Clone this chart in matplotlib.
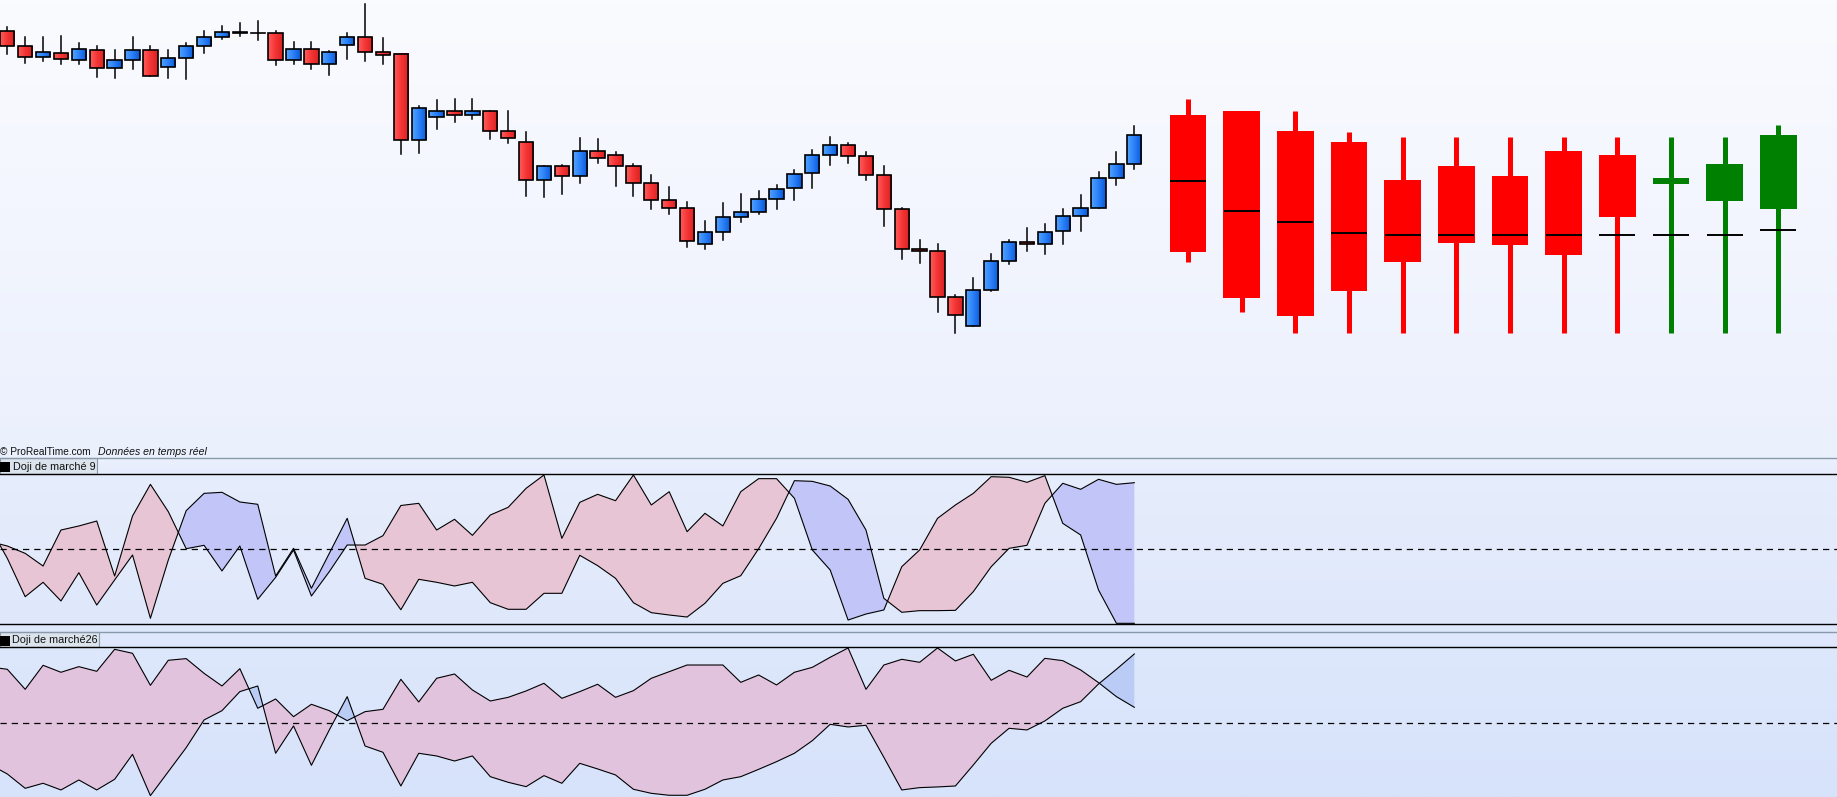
import numpy as np
import matplotlib.pyplot as plt
from matplotlib.patches import Rectangle
from matplotlib.colors import LinearSegmentedColormap

plt.rcParams['font.family'] = ['Liberation Sans', 'DejaVu Sans']

# ---- price candles (64 bars) ----
opens = [568.7, 553.7, 542.7, 546.7, 539.7, 549.7, 531.7, 539.7, 549.7, 532.7,
         541.7, 553.7, 562.7, 566.7, 566.7, 566.7, 539.7, 550.7, 535.7, 554.7,
         562.7, 547.7, 545.7, 459.7, 482.7, 488.7, 484.7, 488.7, 468.7, 457.7,
         419.7, 433.7, 423.7, 448.7, 444.7, 433.7, 416.7, 399.7, 391.7, 355.7,
         367.7, 382.7, 387.7, 400.7, 411.7, 426.7, 444.7, 454.7, 443.7, 424.7,
         390.7, 350.7, 348.7, 302.7, 273.7, 309.7, 338.7, 357.7, 355.7, 368.7,
         383.7, 391.7, 421.7, 435.7]
closes = [553.7, 542.7, 547.7, 541.3, 550.7, 531.7, 539.7, 549.7, 524.3, 541.7,
          553.7, 562.7, 567.7, 567.7, 566.7, 539.7, 550.7, 535.7, 547.7, 562.7,
          547.7, 544.7, 459.7, 491.7, 488.7, 484.7, 488.7, 468.7, 461.7, 419.7,
          433.7, 423.7, 448.7, 441.7, 433.7, 416.7, 399.7, 391.7, 358.7, 367.7,
          382.7, 387.7, 400.7, 410.7, 425.7, 444.7, 454.7, 443.7, 424.7, 390.7,
          350.7, 348.7, 302.7, 284.7, 309.7, 338.7, 357.7, 355.7, 367.7, 383.7,
          391.7, 421.7, 435.7, 464.7]
highs = [572.7, 563, 563, 564, 557, 553.7, 549.7, 563, 553.7, 549.7,
         556.7, 569, 574, 577, 579, 569, 558, 558, 548.7, 567,
         596, 562, 545.7, 494, 500, 501, 501, 488.7, 489, 467.7,
         433.7, 434.7, 461.7, 460.7, 447.7, 435.7, 424.7, 412.7, 397.7, 378.7,
         396.7, 405.7, 408.7, 414.7, 429.7, 449.7, 462.7, 456.7, 447.7, 433.7,
         391.7, 359.7, 355.7, 304.7, 321.7, 345.7, 359.7, 371.7, 375.7, 390.7,
         404.7, 427.7, 447.7, 474]
lows = [545.7, 537.3, 539.3, 536.3, 536.3, 523.3, 522.3, 531.3, 524.3, 522.3,
        521.3, 546.7, 561, 563.7, 560.3, 535.3, 536.3, 531.3, 525.3, 541.3,
        539.3, 536.3, 446.3, 447.3, 471.3, 478.3, 481.3, 461.3, 457.3, 404.3,
        403.3, 406.3, 417.3, 437.3, 414.3, 404.3, 391.3, 386.3, 353.3, 351.3,
        360.3, 378.3, 386.3, 391.3, 400.3, 412.3, 435.3, 436.7, 420.3, 374.3,
        341.3, 337.3, 287.7, 266.7, 273.7, 308.7, 335.7, 348.7, 345.7, 355.7,
        368.7, 391.7, 414.7, 430.7]

# ---- projected big candles (every 3rd bar from 66) ----
big_pos = [66, 69, 72, 75, 78, 81, 84, 87, 90, 93, 96, 99]
big_high = [501, 489, 489, 468, 463, 463, 463, 463, 463, 463, 463, 475]
big_top = [485, 489, 469, 458, 420, 434, 424, 449, 445, 422, 436, 465]
big_bot = [348.3, 302.3, 284.3, 309.3, 338.3, 357.3, 355.3, 345.3, 383.3, 416.3, 399.3, 391.3]
big_low = [338.3, 288.3, 267.3, 267.3, 267.3, 267.3, 267.3, 267.3, 267.3, 267.3, 267.3, 267.3]
big_mid = [419.3, 389.3, 378.3, 367.3, 365.3, 365.3, 365.3, 365.3, 365.3, 365.3, 365.3, 370.3]
big_colors = ['#ff0000'] * 9 + ['#008000'] * 3

# ---- indicator panels (bars -1..63) ----
ind_x = list(range(-1, 64))
doji9_a = [10, 4.0, -5.8, -22.7, 25.3, 30.7, 37.3, -36.0, 44.0, 86.2, 49.8,
           0.4, 4.9, -29.3, 4.0, -67.1, -37.8, -1.3, -62.7, -30.2, 5.3,
           5.3, 17.8, 58, 60.9, 25.3, 39.6, 18.2, 45.3, 55.6, 80.9,
           98.7, 14.2, 62.2, 72.9, 64.4, 98.7, 58.7, 76.4, 23.1, 47.6,
           30.7, 76.4, 93.8, 93.8, 67.6, -1.3, -28, -94.7, -86.7, -81.3,
           -23.6, -1.3, 40.9, 58.7, 74.2, 96.4, 95.6, 88.9, 97.8, 34.2,
           18.7, -54.7, -99.1, -99.1]
doji9_b = [30, -12.4, -63.6, -44.4, -69.3, -31.6, -74.7, -41.3, -8, -92.4, -14.7,
           51.1, 74.2, 75.6, 62.7, 59.6, -36, 0.9, -52.4, -5.8, 40.9,
           -39.1, -47.1, -81, -40.4, -44.4, -49.3, -44.4, -71.6, -80.4, -80.4,
           -59.1, -59.1, -8.4, -22.2, -39.1, -71.6, -84.9, -88, -90.7, -72.4,
           -45.8, -35.6, 0.4, 40.9, 91.1, 90.2, 84, 66.2, 25.3, -65.8,
           -84.4, -82.2, -82.2, -81.8, -56.9, -23.6, 0.9, 4.9, 60.9, 87.6,
           79.6, 92.9, 86.2, 88.4]
doji26_a = [74.7, 71.6, 44.9, 76.9, 67.6, 75.1, 68.9, 98.2, 92.9, 50.2, 83.6,
            85.8, 66.2, 49.3, 72.4, 19.6, 32, 8.4, 24.9, 16.4, 3.1,
            15.1, 18.2, 58.2, 28, 59.6, 65.3, 44, 29.3, 34.2, 42.7,
            52.9, 32.9, 41.8, 51.6, 34.2, 43.1, 59.6, 68.4, 77.3, 77.3,
            77.3, 54.2, 64, 50.7, 67.6, 74.2, 87.6, 100, 44.9, 77.3,
            84.9, 80.9, 100, 82.7, 91.6, 56.9, 70.2, 61.3, 86.2, 83.1,
            70.7, 53.8, 35.1, 20.9]
doji26_b = [-55, -68, -87.1, -80.4, -89.3, -76, -89.3, -75.1, -41.8, -96.9, -64.9,
            -32.9, 4, 16.4, 41.8, 49.3, -40.4, -4, -56.4, -9.3, 35.1,
            -30.7, -39.1, -84, -40.4, -44, -50.7, -44, -71.6, -79.1, -84.9,
            -70.2, -80.4, -53.8, -61.3, -69.3, -88.4, -93.8, -96.4, -96.4, -88.4,
            -76, -71.6, -61.8, -51.6, -40.4, -23.6, -1.8, -5.3, -3.1, -45.8,
            -89.3, -86.2, -85.3, -84, -56, -27.1, -7.1, -9.3, 2.7, 19.6,
            28.4, 52, 71.6, 92]

W, H = 1837, 797
fig = plt.figure(figsize=(W / 100, H / 100), dpi=100)

# background gradient
bg = fig.add_axes([0, 0, 1, 1], zorder=-10)
bg_cm = LinearSegmentedColormap.from_list(
    'bg', [(0, '#fafbff'), (458 / 797, '#ebf0fd'), (474 / 797, '#e6edfc'), (1, '#d7e3fb')])
bg.imshow(np.linspace(0, 1, 400).reshape(-1, 1), cmap=bg_cm, aspect='auto', extent=[0, 1, 0, 1])
bg.axis('off')

xlim = (-0.408, 102.28)

# main price axes
ax = fig.add_axes([0, 1 - 458 / 797, 1, 458 / 797])
ax.set_facecolor('none')
red_cm = LinearSegmentedColormap.from_list('r', ['#ff5c5c', '#f43434', '#d82222'])
blue_cm = LinearSegmentedColormap.from_list('b', ['#52a2ff', '#2a80f8', '#0a58d6'])
hgrad = np.linspace(0, 1, 32).reshape(1, -1)
for i, (o, h, l, c) in enumerate(zip(opens, highs, lows, closes)):
    ax.plot([i, i], [l, h], color='black', lw=1.1, zorder=2)
    lo, hi = min(o, c), max(o, c)
    if hi - lo < 0.3:
        ax.plot([i - 0.4, i + 0.4], [o, o], color='black', lw=1.2, zorder=3)
        continue
    cm = blue_cm if c > o else red_cm
    ax.imshow(hgrad, cmap=cm, extent=[i - 0.4, i + 0.4, lo, hi], aspect='auto', zorder=3)
    ax.add_patch(Rectangle((i - 0.4, lo), 0.8, hi - lo, facecolor='none',
                           edgecolor='black', lw=1.2, zorder=4))

for k, x in enumerate(big_pos):
    col = big_colors[k]
    ax.plot([x, x], [big_low[k], big_high[k]], color=col, lw=3.6,
            solid_capstyle='butt', zorder=2)
    ax.add_patch(Rectangle((x - 1.03, big_bot[k]), 2.06, big_top[k] - big_bot[k],
                           facecolor=col, edgecolor='none', zorder=3))
    ax.plot([x - 1.0, x + 1.0], [big_mid[k], big_mid[k]], color='black', lw=1.4,
            solid_capstyle='butt', zorder=4)

ax.set_xlim(*xlim)
ax.set_ylim(142, 600)
ax.axis('off')


def draw_panel(axp, a, b, pink, blue, ylim):
    xa = np.array(ind_x)
    a = np.array(a)
    b = np.array(b)
    axp.fill_between(xa, a, b, where=a >= b, interpolate=True, color=pink, lw=0)
    axp.fill_between(xa, a, b, where=a < b, interpolate=True, color=blue, lw=0)
    axp.plot(xa, a, color='black', lw=0.8)
    axp.plot(xa, b, color='black', lw=0.8)
    axp.axhline(0, color='black', lw=0.9, ls=(0, (5, 4)))
    axp.set_xlim(*xlim)
    axp.set_ylim(*ylim)
    axp.set_facecolor('none')
    axp.axis('off')


p1 = fig.add_axes([0, 1 - 624 / 797, 1, 150 / 797])
draw_panel(p1, doji9_a, doji9_b, '#e8c5d5', '#c1c5f8', (-100, 100))
p2 = fig.add_axes([0, 0, 1, 150 / 797])
draw_panel(p2, doji26_a, doji26_b, '#e2c3de', '#bacbf6', (-98.7, 101.3))

# overlay: separators, labels
ov = fig.add_axes([0, 0, 1, 1], zorder=10)
ov.set_xlim(0, W)
ov.set_ylim(H, 0)
ov.axis('off')
for y, col in [(458, '#8a9aab'), (474, 'black'), (624, 'black'), (632, '#8a9aab'), (647, 'black')]:
    ov.plot([0, W], [y, y], color=col, lw=1.0)

ov.add_patch(Rectangle((0, 458), 97, 16, facecolor='#dbe3ec', edgecolor='#8a9aab', lw=0.8))
ov.add_patch(Rectangle((0, 461.5), 9.5, 10.5, facecolor='black', edgecolor='none'))
ov.text(13, 466.5, 'Doji de marché 9', fontsize=7.8, va='center', ha='left', color='#111111')

ov.add_patch(Rectangle((0, 632), 99, 15, facecolor='#dbe3ec', edgecolor='#8a9aab', lw=0.8))
ov.add_patch(Rectangle((0, 636), 10, 10, facecolor='black', edgecolor='none'))
ov.text(12, 640, 'Doji de marché26', fontsize=7.8, va='center', ha='left', color='#111111')

ov.text(0.5, 451.5, '© ProRealTime.com', fontsize=7.3, va='center', ha='left', color='#111111')
ov.text(97.5, 451.5, 'Données en temps réel', fontsize=7.6, va='center', ha='left',
        style='italic', color='#111111')

fig.savefig('out.png', dpi=100)
